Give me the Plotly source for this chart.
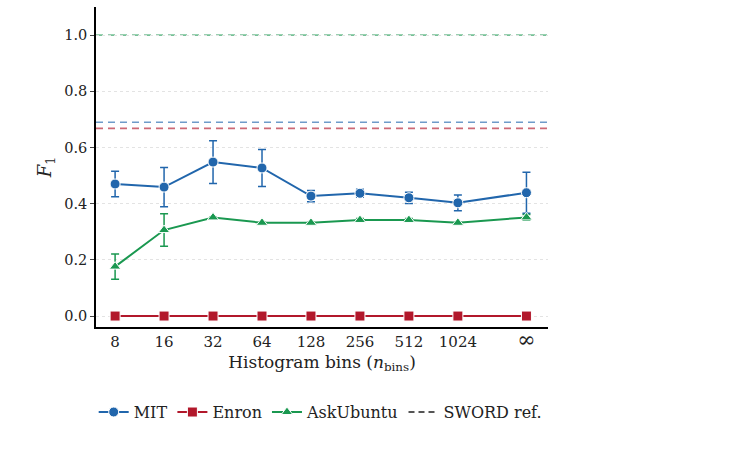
import plotly.graph_objects as go

bins = ["8", "16", "32", "64", "128", "256", "512", "1024", "∞"]
mit = [0.470, 0.459, 0.548, 0.527, 0.427, 0.437, 0.421, 0.403, 0.439]
mit_err = [0.045, 0.070, 0.076, 0.066, 0.020, 0.014, 0.020, 0.028, 0.073]
enron = [0.0] * 9
enron_err = [0.0] * 9
ask = [0.176, 0.306, 0.351, 0.332, 0.332, 0.342, 0.342, 0.332, 0.351]
ask_err = [0.045, 0.058, 0.002, 0.002, 0.002, 0.005, 0.005, 0.002, 0.010]
sword_ref = {"MIT": 0.690, "Enron": 0.668, "AskUbuntu": 1.0}

INF_GAP = 1.4
xpos = [i for i in range(len(bins) - 1)] + [len(bins) - 2 + INF_GAP]
ticktext = [b if b != "∞" else "<span style='font-size:22px'>∞</span>" for b in bins]

colors = {"MIT": "#2166ac", "Enron": "#b2182b", "AskUbuntu": "#1a9850"}
ref_colors = {"MIT": "rgba(33,102,172,0.65)", "Enron": "rgba(178,24,43,0.65)",
              "AskUbuntu": "rgba(26,152,80,0.6)"}
symbols = {"MIT": "circle", "Enron": "square", "AskUbuntu": "triangle-up"}
msize = {"MIT": 10, "Enron": 10, "AskUbuntu": 10}

FONT = "DejaVu Serif, Liberation Serif, serif"
TXT = "#222222"
fig = go.Figure()

for name, y in sword_ref.items():
    fig.add_hline(y=y, line=dict(color=ref_colors[name], width=1.6, dash="7px,5px"), layer="below")

for name, ys, es in [("MIT", mit, mit_err), ("Enron", enron, enron_err), ("AskUbuntu", ask, ask_err)]:
    fig.add_trace(go.Scatter(
        x=xpos, y=ys, name=name, mode="lines+markers",
        line=dict(color=colors[name], width=2),
        marker=dict(symbol=symbols[name], size=msize[name], color=colors[name],
                    line=dict(color="white", width=1)),
        error_y=dict(type="data", array=es, visible=True, color=colors[name],
                     thickness=1.5, width=4),
    ))

fig.add_trace(go.Scatter(x=[None], y=[None], mode="lines", name="SWORD ref.",
                         line=dict(color="#555555", width=2, dash="6px,4px")))

fig.update_layout(
    width=750, height=474,
    margin=dict(l=96, r=202, t=7, b=147),
    paper_bgcolor="white", plot_bgcolor="white",
    font=dict(family=FONT, size=14, color=TXT),
    showlegend=True,
    legend=dict(orientation="h", x=0.496, y=-0.266, xanchor="center", yanchor="middle",
                font=dict(family=FONT, size=16, color=TXT)),
)
fig.update_xaxes(
    range=[-0.39, 8.84], tickvals=xpos, ticktext=ticktext,
    showgrid=False, zeroline=False,
    showline=True, linecolor="black", linewidth=1.5,
    ticks="", tickfont=dict(family=FONT, size=15, color=TXT),
    title=dict(text="Histogram bins (<i>n</i><sub>bins</sub>)", font=dict(family=FONT, size=17, color=TXT),
               standoff=5),
)
fig.update_yaxes(
    range=[-0.039, 1.1], tickvals=[0, 0.2, 0.4, 0.6, 0.8, 1.0],
    ticktext=["0.0", "0.2", "0.4", "0.6", "0.8", "1.0"],
    showgrid=True, gridcolor="#e3e3e3", griddash="dot", gridwidth=1,
    zeroline=False, showline=True, linecolor="black", linewidth=1.5,
    ticks="outside", ticklen=4, tickcolor="#444444", tickwidth=1,
    tickfont=dict(family=FONT, size=14.5, color=TXT),
    title=dict(text="<i>F</i><sub>1</sub>", font=dict(family=FONT, size=18, color=TXT),
               standoff=8),
)

fig.write_html("out.html")
